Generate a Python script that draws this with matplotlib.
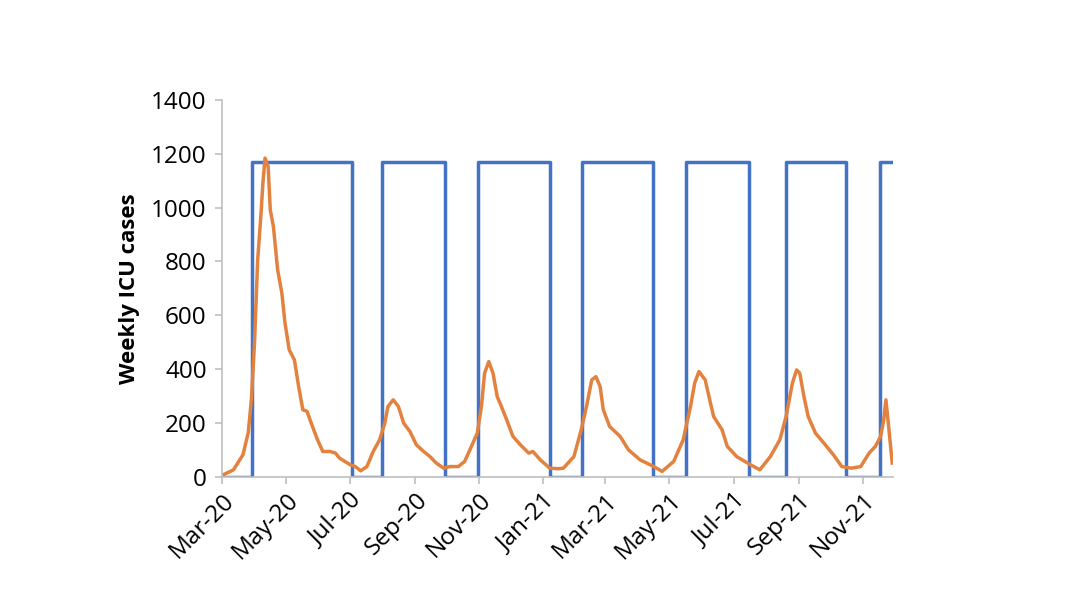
import numpy as np
import matplotlib.pyplot as plt
import matplotlib.dates as mdates

plt.rcParams['font.family'] = ['Open Sans', 'DejaVu Sans']

start = np.datetime64('2020-03-01')

# weekly ICU cases (orange), days after 1 Mar 2020
icu_days = [0, 1, 11, 20, 25, 28, 31, 34, 37, 39, 41, 44, 46, 49, 53, 57, 60, 64,
            69, 73, 77, 81, 85, 91, 96, 100, 103, 108, 112, 122, 127, 132, 138,
            144, 150, 155, 158, 163, 168, 173, 179, 185, 192, 198, 204, 211, 217,
            225, 231, 236, 243, 247, 250, 254, 258, 262, 266, 271, 277, 284, 292,
            296, 303, 312, 320, 325, 335, 342, 347, 352, 356, 360, 363, 369, 379,
            387, 398, 411, 419, 430, 439, 446, 450, 454, 460, 465, 468, 476, 481,
            490, 503, 512, 522, 531, 537, 543, 547, 550, 554, 558, 565, 573, 582,
            590, 599, 608, 616, 622, 627, 630, 632, 634, 638]
icu_vals = [5, 7, 26, 82, 163, 286, 497, 806, 967, 1092, 1184, 1152, 991, 929, 769,
            683, 572, 472, 434, 335, 249, 243, 199, 137, 94, 94, 94, 88, 69, 45, 38,
            22, 38, 94, 137, 199, 261, 286, 261, 199, 168, 119, 94, 75, 51, 32, 38,
            38, 57, 100, 162, 261, 385, 428, 385, 298, 261, 212, 150, 119, 88, 94,
            63, 32, 30, 32, 75, 175, 261, 360, 372, 335, 249, 187, 150, 100, 63, 38,
            20, 57, 137, 261, 348, 391, 360, 274, 224, 175, 113, 75, 45, 26, 75, 137,
            224, 348, 397, 385, 298, 224, 162, 125, 82, 38, 32, 38, 88, 113, 150,
            212, 286, 212, 51]

# school term indicator (blue), change points
term_days = [0, 29, 124, 152, 212, 244, 312, 343, 410, 442, 502, 537, 594, 626, 639]
term_vals = [0, 1170, 0, 1170, 0, 1170, 0, 1170, 0, 1170, 0, 1170, 0, 1170, 1170]

icu_dates = start + np.array(icu_days).astype('timedelta64[D]')
term_dates = start + np.array(term_days).astype('timedelta64[D]')

fig = plt.figure(figsize=(10.88, 6.02), dpi=100)
ax = fig.add_axes([0.204, 0.208, 0.617, 0.626])

ax.plot(term_dates, term_vals, drawstyle='steps-post', color='#4472C4', linewidth=2.5)
ax.plot(icu_dates, icu_vals, color='#E3823E', linewidth=2.5)

ax.set_xlim(start, start + np.timedelta64(639, 'D'))
ax.set_ylim(0, 1400)
ax.set_yticks(range(0, 1401, 200))
ax.xaxis.set_major_locator(mdates.MonthLocator(bymonth=[1, 3, 5, 7, 9, 11]))
ax.xaxis.set_major_formatter(mdates.DateFormatter('%b-%y'))

for s in ['top', 'right']:
    ax.spines[s].set_visible(False)
for s in ['left', 'bottom']:
    ax.spines[s].set_color('#BFBFBF')
    ax.spines[s].set_linewidth(1.2)
ax.tick_params(colors='#BFBFBF', labelcolor='black', labelsize=17.5, length=5, width=1.2)
ax.tick_params(axis='y', pad=6)
plt.setp(ax.get_xticklabels(), rotation=45, ha='right', rotation_mode='anchor')
ax.set_ylabel('Weekly ICU cases', fontsize=16, fontweight='bold', labelpad=8)

fig.savefig('out.png')
